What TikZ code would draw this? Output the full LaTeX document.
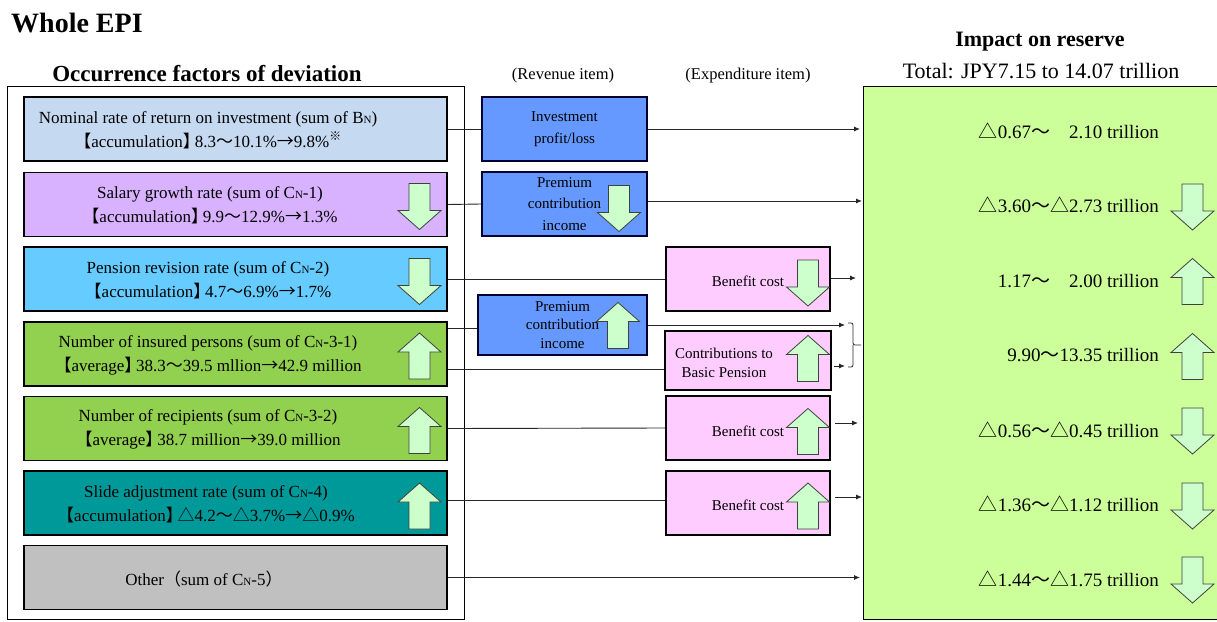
\documentclass[tikz,border=0pt]{standalone}
\usepackage{fontspec}
\setmainfont{Liberation Serif}
\newfontfamily\cjk{Noto Sans CJK JP}
\usetikzlibrary{arrows.meta}
\newcommand\LB{{\cjk 【}}
\newcommand\RB{{\cjk 】}\kern-0.3em}
\newcommand\WV{{\cjk 〜}}
\newcommand\TR{{\cjk △}}
\newcommand\RA{{\cjk →}}
\newcommand\KM{\textsuperscript{\cjk ※}}
\newcommand\sN{{\fontsize{11}{11}\selectfont N}}
\newcommand\fs[2]{\fontsize{#1}{#2}\selectfont}
\definecolor{cnom}{RGB}{197,217,241}
\definecolor{csal}{RGB}{216,178,255}
\definecolor{cpen}{RGB}{102,204,255}
\definecolor{cins}{RGB}{146,208,80}
\definecolor{csli}{RGB}{0,153,153}
\definecolor{coth}{RGB}{192,192,192}
\definecolor{crev}{RGB}{102,153,255}
\definecolor{cexp}{RGB}{255,204,255}
\definecolor{cgrn}{RGB}{204,255,153}
\definecolor{carr}{RGB}{204,255,204}
\tikzset{
  fbox/.style={draw=black, line width=1.2pt, minimum width=423pt, minimum height=64pt, inner sep=0pt},
  rbox/.style={draw=black!80!blue, line width=1.2pt, minimum width=165pt, minimum height=64pt, inner sep=0pt, fill=crev, align=center, font=\fs{15}{21.5}},
  ebox/.style={draw=black, line width=1.2pt, minimum width=164pt, minimum height=64pt, inner sep=0pt, fill=cexp, font=\fs{15}{19}},
  ftext/.style={align=center, font=\fs{17}{24}, inner sep=0pt},
  vtext/.style={anchor=east, font=\fs{19}{21}, inner sep=0pt},
  ln/.style={line width=0.9pt, draw=black!85},
  arr/.style={ln, -{Latex[length=6pt,width=5pt]}},
  blk/.style={fill=carr, draw=black!75, line width=0.8pt, line join=miter},
  dn/.pic={\path[blk] (-10.5,-23) -- (10.5,-23) -- (10.5,4) -- (21.5,4) -- (0,23) -- (-21.5,4) -- (-10.5,4) -- cycle;},
  up/.pic={\path[blk] (0,-23) -- (21.5,-4) -- (10.5,-4) -- (10.5,23) -- (-10.5,23) -- (-10.5,-4) -- (-21.5,-4) -- cycle;}
}
\begin{document}
\begin{tikzpicture}[x=1pt,y=-1pt]
\useasboundingbox (0,0) rectangle (1217,621);
\clip (0,0) rectangle (1217,621);
\fill[white] (0,0) rectangle (1217,621);

% titles
\node[anchor=west, font=\bfseries\fs{28}{30}, inner sep=0pt] (t1) at (11,23) {Whole EPI};
\node[font=\bfseries\fs{23}{25}, inner sep=0pt] (t2) at (207,74) {Occurrence factors of deviation};
\node[font=\fs{16.5}{18}, inner sep=0pt] (t3) at (563,76) {(Revenue item)};
\node[font=\fs{16.5}{18}, inner sep=0pt] (t4) at (748,76) {(Expenditure item)};
\node[font=\bfseries\fs{22}{24}, inner sep=0pt] (t5) at (1040,42) {Impact on reserve};
\node[font=\fs{22}{24}, inner sep=0pt] (t6) at (1041,71) {Total: JPY7.15 to 14.07 trillion};

% frames
\node[draw=black, line width=1pt, minimum width=457pt, minimum height=533pt, inner sep=0pt, anchor=north west] (F) at (7,86) {};
\node[draw=black, line width=1.2pt, fill=cgrn, minimum width=380pt, minimum height=533pt, inner sep=0pt, anchor=north west] (G) at (863,86) {};

% factor boxes
\node[fbox, fill=cnom] (f1) at (235.5,129) {};
\node[fbox, fill=csal] (f2) at (235.5,204.5) {};
\node[fbox, fill=cpen] (f3) at (235.5,279) {};
\node[fbox, fill=cins] (f4) at (235.5,354) {};
\node[fbox, fill=cins] (f5) at (235.5,428.5) {};
\node[fbox, fill=csli] (f6) at (235.5,503) {};
\node[fbox, fill=coth] (f7) at (235.5,577.5) {};

\node[ftext] (l1) at (208,130) {Nominal rate of return on investment (sum of B\sN)\\\LB accumulation\RB 8.3\WV 10.1\%\RA 9.8\%\KM};
\node[ftext] (l2) at (210,205) {Salary growth rate (sum of C\sN-1)\\\LB accumulation\RB 9.9\WV 12.9\%\RA 1.3\%};
\node[ftext] (l3) at (208,280) {Pension revision rate (sum of C\sN-2)\\\LB accumulation\RB 4.7\WV 6.9\%\RA 1.7\%};
\node[ftext] (l4) at (208,355) {Number of insured persons (sum of C\sN-3-1)\\\LB average\RB 38.3\WV 39.5 mllion\RA 42.9 million};
\node[ftext] (l5) at (208,429) {Number of recipients (sum of C\sN-3-2)\\\LB average\RB 38.7 million\RA 39.0 million};
\node[ftext] (l6) at (206,504) {Slide adjustment rate (sum of C\sN-4)\\\LB accumulation\RB\TR 4.2\WV\TR 3.7\%\RA\TR 0.9\%};
\node[ftext] (l7) at (204,579) {Other{\cjk （}sum of C\sN-5{\cjk ）}};

% revenue boxes
\node[rbox] (r1) at (564.5,129) {Investment\\profit/loss};
\node[rbox] (r2) at (564.5,204) {Premium\\contribution\\income};
\node[rbox, minimum width=169pt, minimum height=60pt, font=\fs{15}{18.5}] (r3) at (562.5,325) {Premium\\contribution\\income};

% expenditure boxes
\node[ebox] (e1) at (748,279) {};
\node[ebox, minimum width=166pt, minimum height=59pt] (e2) at (748,360.5) {};
\node[ebox] (e3) at (748,428) {};
\node[ebox] (e4) at (748,503) {};
\node[font=\fs{15}{19}, inner sep=0pt] (b1) at (748,281) {Benefit cost};
\node[font=\fs{15}{19}, inner sep=0pt, align=center] (b2) at (724,363) {Contributions to\\Basic Pension};
\node[font=\fs{15}{19}, inner sep=0pt] (b3) at (748,431) {Benefit cost};
\node[font=\fs{15}{19}, inner sep=0pt] (b4) at (748,505) {Benefit cost};

% value texts
\node[vtext] (v1) at (1159,131) {\TR 0.67\WV\phantom{\TR}2.10 trillion};
\node[vtext] (v2) at (1159,205) {\TR 3.60\WV\TR 2.73 trillion};
\node[vtext] (v3) at (1159,280) {1.17\WV\phantom{\TR}2.00 trillion};
\node[vtext] (v4) at (1159,355) {9.90\WV 13.35 trillion};
\node[vtext] (v5) at (1159,430) {\TR 0.56\WV\TR 0.45 trillion};
\node[vtext] (v6) at (1159,504) {\TR 1.36\WV\TR 1.12 trillion};
\node[vtext] (v7) at (1159,579) {\TR 1.44\WV\TR 1.75 trillion};

% block arrows
\pic at (419.5,206.5) {dn};
\pic at (419.5,281.5) {dn};
\pic at (419.5,356) {up};
\pic at (419.5,430.5) {up};
\pic at (419.5,506) {up};
\pic at (619,208.5) {dn};
\pic at (618,325.5) {up};
\pic at (808,283) {dn};
\pic at (808,358.5) {up};
\pic at (808,431.5) {up};
\pic at (808,506) {up};
\pic at (1192.5,207) {dn};
\pic at (1192.5,281.5) {up};
\pic at (1192.5,356.5) {up};
\pic at (1192.5,431) {dn};
\pic at (1192.5,506) {dn};
\pic at (1192.5,580) {dn};

% helper coordinates
\coordinate (y4b) at (0,369);
\coordinate (a3s) at (831,278);
\coordinate (a3e) at (856,278);
\coordinate (a4e) at (845,325);
\coordinate (c4s) at (834,366);
\coordinate (c4e) at (845,366);
\coordinate (a5s) at (835,423);
\coordinate (a5e) at (858,423);
\coordinate (a6s) at (835,497);
\coordinate (a6e) at (862,497);

% connectors
\draw[ln] (f1.east) -- (r1.west);
\draw[arr, shorten >=3pt] (r1.east) -- (r1.east -| G.west);
\draw[ln] (f2.east) -- (r2.west);
\draw[arr, shorten >=1pt] ([yshift=3pt]r2.east) -- ([yshift=3pt]r2.east -| G.west);
\draw[ln] ([yshift=-3pt]f4.east |- r3.west) -- ([yshift=-3pt]r3.west);
\draw[ln] (f3.east) -- (e1.west);
\draw[arr] (a3s) -- (a3e);
\draw[arr] (r3.east) -- (a4e);
\draw[ln] (f4.east |- y4b) -- (e2.west |- y4b);
\draw[arr] (c4s) -- (c4e);
\draw[ln] (f5.east) -- (e3.west);
\draw[arr] (a5s) -- (a5e);
\draw[ln] ([yshift=3pt]f6.east) -- ([yshift=3pt]e4.west);
\draw[arr] (a6s) -- (a6e);
\draw[arr, shorten >=3pt] (f7.east) -- (f7.east -| G.west);

% brace
\draw[ln, line width=0.8pt, rounded corners=2pt] (848,323) -- (853,323) -- (853,345) -- (861,345);
\draw[ln, line width=0.8pt, rounded corners=2pt] (848,367) -- (853,367) -- (853,345);
\end{tikzpicture}
\end{document}
